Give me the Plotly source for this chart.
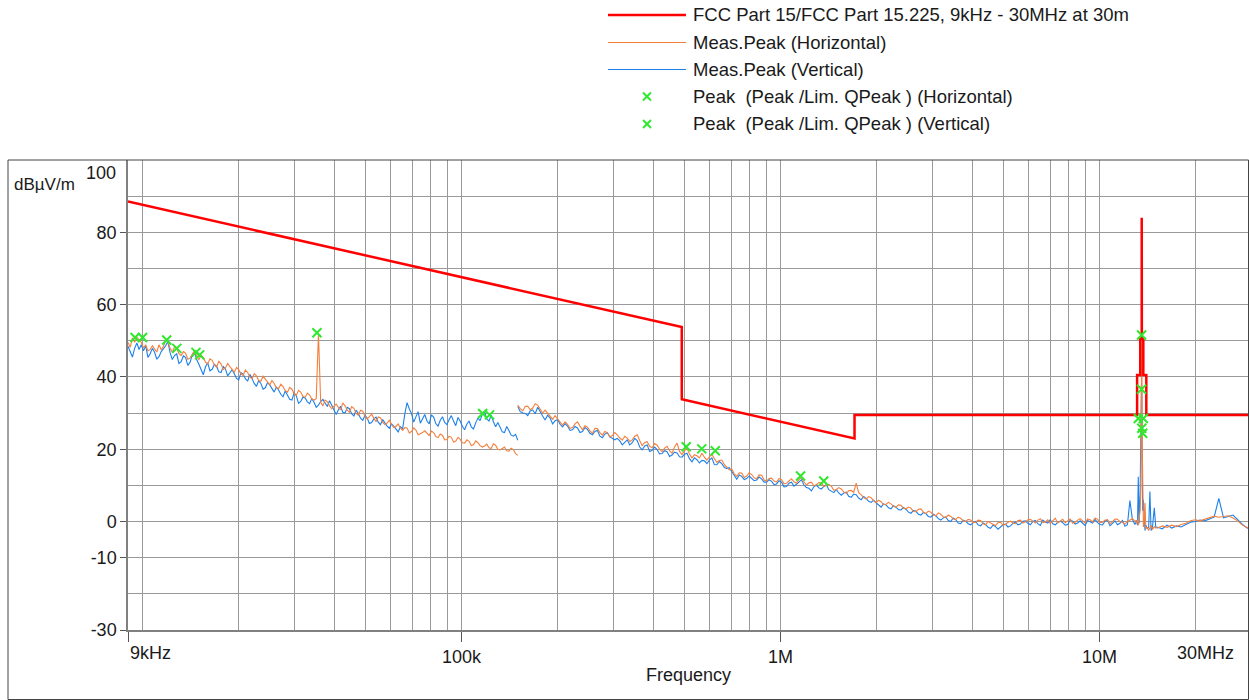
import numpy as np
import plotly.graph_objects as go

# ---------------- data ----------------
# Limit line breakpoints (FCC Part 15 / 15.225 at 30 m)
LIMIT_F = [9e3, 490e3, 490e3, 1.705e6, 1.705e6, 13.11e6, 13.11e6, 13.41e6, 13.41e6,
           13.553e6, 13.553e6, 13.567e6, 13.567e6, 13.71e6, 13.71e6, 14.01e6, 14.01e6, 30e6]
LIMIT_DB = [88.5, 53.8, 33.8, 23.0, 29.5, 29.5, 40.5, 40.5, 50.5,
            50.5, 84.0, 84.0, 50.5, 50.5, 40.5, 40.5, 29.5, 29.5]

# Band 1: 9 kHz - 150 kHz (main samples + in-between samples)
H_BAND1 = [49.5, 50.8, 51.0, 49.6, 48.9, 47.6, 47.8, 48.9, 48.4, 49.9,
           46.8, 47.9, 45.9, 46.6, 45.2, 47.2, 44.8, 45.4, 43.6, 44.6,
           42.7, 43.6, 42.5, 42.9, 41.3, 42.0, 40.4, 41.3, 39.5, 40.3,
           38.8, 39.4, 37.8, 38.2, 36.8, 37.3, 35.8, 36.6, 34.9, 35.8,
           34.4, 35.0, 33.6, 52.0, 32.0, 33.2, 31.2, 32.5, 30.9, 32.0,
           30.2, 31.3, 29.4, 30.5, 28.4, 29.7, 27.6, 28.7, 26.8, 28.0,
           26.0, 27.0, 25.2, 25.9, 24.9, 25.3, 24.2, 25.1, 23.8, 24.6,
           23.2, 23.8, 22.7, 23.3, 22.2, 22.7, 21.7, 22.2, 21.2, 21.8,
           20.6, 21.4, 20.2, 21.1, 19.8, 20.6, 19.5, 19.9, 18.3]
H_BAND1_MID = [48.2, 49.6, 50.4, 48.0, 47.2, 48.6, 46.9, 47.5, 50.1, 47.9,
               48.3, 46.4, 47.0, 44.9, 46.3, 45.7, 46.0, 44.1, 45.0, 43.3,
               44.3, 42.0, 43.7, 41.8, 42.6, 40.8, 41.9, 40.0, 40.9, 39.0,
               40.2, 38.5, 39.0, 37.0, 38.0, 36.2, 37.1, 35.4, 36.3, 34.6,
               35.5, 33.9, 34.0, 33.0, 33.6, 32.0, 31.9, 31.6, 32.8, 30.8,
               31.8, 29.9, 30.8, 29.2, 29.0, 28.6, 28.9, 27.4, 27.2, 26.9,
               26.3, 25.9, 26.0, 24.5, 25.9, 24.0, 24.6, 24.3, 25.0, 23.5,
               24.2, 22.6, 23.6, 22.0, 23.3, 21.8, 22.6, 21.0, 22.3, 21.0,
               20.9, 20.4, 21.5, 20.0, 20.2, 19.6, 20.3, 18.8]
V_BAND1 = [48.5, 45.5, 49.4, 48.9, 48.6, 46.4, 46.8, 45.6, 47.8, 49.8,
           44.8, 46.4, 44.2, 45.4, 44.0, 47.0, 43.5, 40.6, 43.9, 42.1,
           43.0, 41.2, 42.2, 41.0, 40.9, 39.2, 40.8, 38.8, 39.6, 37.4,
           38.2, 37.0, 37.8, 35.8, 36.4, 34.5, 34.9, 33.6, 34.8, 33.2,
           34.2, 32.6, 33.0, 32.2, 33.8, 31.8, 32.0, 29.6, 31.9, 30.0,
           31.2, 29.2, 29.9, 28.0, 28.6, 27.4, 28.9, 26.8, 27.1, 25.8,
           26.4, 24.8, 25.6, 32.9, 29.9, 28.8, 27.2, 29.6, 27.0, 28.9,
           26.4, 29.0, 26.8, 29.3, 26.5, 27.8, 25.4, 27.8, 25.6, 28.6,
           29.7, 28.4, 29.4, 26.2, 26.0, 24.6, 25.2, 23.6, 22.5]
V_BAND1_MID = [46.8, 47.9, 47.6, 47.2, 45.4, 47.9, 44.9, 47.0, 48.6, 46.7,
               45.9, 43.7, 45.8, 43.2, 46.1, 44.8, 42.0, 42.8, 41.7, 43.5,
               41.4, 42.9, 40.3, 42.0, 39.6, 41.2, 39.5, 40.7, 38.2, 38.9,
               36.6, 38.4, 36.9, 37.2, 35.2, 36.1, 33.8, 35.6, 32.7, 34.4,
               33.1, 34.0, 31.6, 33.2, 32.6, 33.4, 30.8, 30.9, 30.2, 31.6,
               29.8, 30.8, 28.6, 29.3, 27.1, 28.4, 27.5, 28.2, 26.4, 27.0,
               25.6, 26.2, 29.8, 31.2, 27.5, 30.4, 28.4, 27.8, 29.5, 27.1,
               28.0, 27.4, 28.2, 27.8, 28.8, 26.3, 26.9, 26.2, 27.3, 27.9,
               30.4, 27.8, 27.6, 27.4, 24.8, 26.3, 23.9, 24.1]

# Band 2a: 150 kHz - 12.9 MHz (main samples + in-between samples)
H_BAND2A = [32.2, 30.6, 31.9, 31.4, 32.2, 30.0, 29.9, 28.3, 28.5, 26.7,
            26.9, 26.0, 27.6, 25.4, 26.1, 24.4, 25.7, 23.9, 24.6, 23.8,
            24.0, 22.5, 23.1, 22.6, 24.0, 21.0, 22.1, 20.4, 21.1, 19.3,
            20.8, 18.9, 21.7, 18.5, 20.3, 17.6, 18.2, 18.9, 17.0, 18.6,
            16.4, 17.0, 15.0, 14.5, 12.5, 13.4, 12.6, 13.0, 11.8, 12.8,
            11.2, 12.0, 10.9, 11.6, 10.6, 11.8, 10.6, 12.2, 10.1, 10.9,
            10.2, 10.7, 9.9, 9.8, 8.8, 9.0, 7.8, 8.6, 10.6, 7.4,
            6.2, 6.6, 5.2, 5.5, 4.8, 4.9, 3.9, 4.5, 3.5, 3.7,
            2.7, 3.5, 2.2, 2.6, 1.6, 2.0, 1.1, 1.4, 0.6, 0.9,
            0.0, 0.4, -0.2, 0.3, -0.9, -0.4, -1.1, -0.2, -0.8, 0.1,
            -0.6, 0.4, -0.1,
            0.6, -0.4, 0.8, -0.1, -0.5, 0.9, 0.0, -0.3, 0.7, -0.2,
            0.8, -0.4, 0.5, 1.0, -0.3, 0.4, -0.6, 0.7, 0.0, -0.7, 0.5, 0.2]
H_BAND2A_MID = [31.2, 31.8, 30.9, 32.6, 31.0, 30.8, 29.0, 29.3, 27.5, 27.6,
                25.8, 27.0, 26.4, 26.5, 25.1, 25.8, 24.6, 24.9, 23.4, 24.6,
                23.1, 23.6, 22.1, 23.6, 22.4, 21.9, 20.8, 21.6, 20.0, 20.3,
                19.6, 20.6, 19.4, 19.6, 18.7, 18.5, 17.6, 17.8, 17.9, 17.4,
                16.9, 15.8, 14.3, 13.2, 13.5, 12.2, 13.5, 12.1, 12.9, 11.5,
                11.9, 11.2, 11.9, 10.5, 11.2, 11.0, 11.6, 11.0, 10.7, 9.9,
                10.8, 9.7, 10.3, 8.7, 9.4, 8.2, 8.5, 8.1, 8.0, 6.6,
                6.9, 5.7, 5.9, 4.7, 5.3, 4.2, 4.6, 3.7, 4.0, 2.8,
                3.4, 2.6, 2.9, 1.8, 2.4, 1.3, 1.8, 0.7, 1.2, 0.2,
                0.6, -0.3, 0.4, -0.6, 0.0, -0.8, -0.3, -1.0, -0.2, -0.4,
                0.3, -0.4, 0.5, 0.1, 0.4, -0.3, 0.5, 0.2, -0.4, 0.6,
                0.1, -0.5, 0.4, 0.2, 0.7, -0.1, 0.6, -0.2, 0.5, -0.1,
                0.6, -0.2, 0.0, 0.8]
V_BAND2A = [31.8, 30.0, 29.3, 30.9, 31.6, 29.2, 29.4, 27.0, 28.2, 26.2,
            26.4, 25.4, 25.9, 24.9, 25.5, 24.0, 25.2, 23.2, 24.6, 23.0,
            23.0, 21.2, 22.6, 21.8, 22.4, 19.8, 21.2, 19.7, 19.9, 18.8,
            19.3, 18.4, 19.0, 17.8, 18.9, 16.5, 17.1, 16.9, 16.0, 17.6,
            15.7, 16.0, 14.6, 13.9, 11.7, 12.5, 11.9, 12.0, 11.5, 11.8,
            10.9, 11.1, 10.4, 10.9, 9.7, 10.9, 10.3, 11.6, 9.4, 8.5,
            10.1, 9.0, 10.2, 8.3, 8.9, 7.3, 8.1, 6.7, 7.4, 6.0,
            6.4, 5.3, 5.2, 4.0, 4.6, 3.5, 4.0, 3.2, 3.4, 2.3,
            2.9, 1.8, 2.2, 1.2, 1.6, 0.4, 1.3, 0.0, 0.5, -0.6,
            0.1, -0.9, 0.0, -1.2, -0.8, -1.9, -1.4, -1.6, -0.7, -1.2,
            -0.1, -0.7, 0.2,
            -0.9, 0.3, -1.1, -0.1, 0.5, -0.9, 0.1, -1.0, 0.4, -0.7,
            0.2, -1.1, 0.0, 0.6, -0.8, 0.1, -1.2, 0.2, -0.5, -1.3, 5.8, -0.8]
V_BAND2A_MID = [30.4, 29.9, 30.6, 29.8, 30.2, 28.1, 28.6, 27.9, 26.9, 27.1,
                25.2, 26.3, 24.6, 26.0, 24.4, 24.9, 23.6, 24.2, 23.4, 22.6,
                22.3, 22.0, 21.2, 23.0, 20.6, 20.9, 19.4, 20.6, 18.7, 19.6,
                18.0, 19.2, 17.9, 18.6, 17.4, 17.6, 16.2, 16.8, 17.0, 15.8,
                16.6, 15.0, 14.9, 12.8, 12.9, 11.6, 12.6, 11.3, 12.3, 10.9,
                11.6, 10.2, 11.3, 9.6, 10.6, 9.8, 11.0, 10.1, 9.2, 9.6,
                9.3, 9.7, 8.8, 8.0, 7.9, 7.9, 7.0, 7.6, 6.5, 6.9,
                5.6, 5.9, 4.5, 4.9, 3.8, 4.4, 3.3, 3.9, 2.6, 3.0,
                2.0, 2.5, 1.4, 2.0, 0.8, 1.0, 0.3, 1.0, -0.4, 0.4,
                -0.6, -0.3, -0.9, -0.4, -1.6, -1.0, -2.1, -0.9, -1.5, -0.5,
                -0.9, 0.1, -0.5, 0.0, -0.6, 0.4, -0.4, -0.6, -0.2, -0.3,
                -0.8, 0.1, -0.4, -0.6, 0.3, -0.4, -0.3, -0.9, 0.4, -0.6,
                -0.9, 0.3, -0.9, 0.6]

# Band 2b: around 13.56 MHz (frequencies in MHz)
F_BAND2B_MHZ = [12.95, 13.05, 13.15, 13.22, 13.3, 13.4, 13.47, 13.52, 13.56, 13.6, 13.65,
                13.72, 13.8, 13.88, 13.96, 14.1, 14.25, 14.38, 14.5, 14.65, 14.84, 15.0]
H_BAND2B = [0.2, -0.5, 0.5, -1.0, 1.5, 3.0, 9.0, 30.0, 51.5, 22.0, 6.0,
            -1.5, -0.5, 5.1, -2.0, -1.5, -2.5, -1.8, -1.0, -2.2, -1.4, -1.8]
V_BAND2B = [-0.5, 0.3, -1.0, 12.4, -0.5, 8.0, 25.0, 38.0, 36.6, 15.0, 3.0,
            6.0, -1.0, -2.5, -1.0, -2.0, -1.5, 8.3, -2.5, -1.5, 3.8, -1.6]

# Band 2c: 15.2 MHz - 30 MHz
H_BAND2C = [-1.8, -1.2, -1.6, -1.0, -1.4, -0.8, -0.5, 0.2, 0.5, 0.2,
            0.6, 1.2, 1.5, 1.2, 1.4, 1.6, 1.0, 0.2, -1.0, -1.6, -2.3]
V_BAND2C = [-1.6, -2.0, -1.0, -1.8, -1.2, -1.5, -0.8, -0.2, 0.0, 0.4,
            0.2, 0.8, 1.2, 6.4, 1.0, 1.4, 1.8, 0.5, -0.8, -1.8, -2.0]

# Final peak markers
PEAK_H_F = [9.47e3, 11.9e3, 14.7e3, 35.2e3, 506e3, 624e3, 1.155e6, 13.54e6, 13.22e6, 13.56e6]
PEAK_H_DB = [50.9, 50.2, 46.8, 52.2, 20.7, 19.6, 12.6, 51.6, 28.5, 25.8]
PEAK_V_F = [10.0e3, 12.8e3, 15.1e3, 116.4e3, 122.4e3, 566e3, 1.365e6, 13.54e6, 13.71e6, 13.65e6]
PEAK_V_DB = [50.9, 47.9, 46.1, 29.9, 29.5, 20.1, 11.2, 36.6, 28.5, 24.4]

Y_TICKS = [80, 60, 40, 20, 0, -10, -30]
Y_TICKTEXT = ["80", "60", "40", "20", "0", "-10", "-30"]
X_TICKS = [1e5, 1e6, 1e7]
X_TICKTEXT = ["100k", "1M", "10M"]

LEGEND_NAMES = ["FCC Part 15/FCC Part 15.225, 9kHz - 30MHz at 30m",
                "Meas.Peak (Horizontal)",
                "Meas.Peak (Vertical)",
                "Peak  (Peak /Lim. QPeak ) (Horizontal)",
                "Peak  (Peak /Lim. QPeak ) (Vertical)"]

# ---------------- build ----------------
RED = "#ff0000"
ORANGE = "#f5803e"
BLUE = "#1b80ec"
GREEN = "#2ee82e"
GRID = "#9a9a9a"
TXT = "#1a1a1a"
FONT = "Arial, 'Liberation Sans', sans-serif"
FS = 18


def interleave(main, mid):
    out = np.empty(len(main) + len(mid))
    out[0::2] = main
    out[1::2] = mid
    return out


h1 = interleave(H_BAND1, H_BAND1_MID)
v1 = interleave(V_BAND1, V_BAND1_MID)
h2a = interleave(H_BAND2A, H_BAND2A_MID)
v2a = interleave(V_BAND2A, V_BAND2A_MID)

f1 = np.geomspace(9e3, 150e3, len(h1))
f2a = np.geomspace(150e3, 12.9e6, len(h2a))
f2b = np.array(F_BAND2B_MHZ) * 1e6
f2c = np.geomspace(15.2e6, 30e6, len(H_BAND2C))

freq = np.concatenate([f1, [np.nan], f2a, f2b, f2c])
h_vals = np.concatenate([h1, [np.nan], h2a, H_BAND2B, H_BAND2C])
v_vals = np.concatenate([v1, [np.nan], v2a, V_BAND2B, V_BAND2C])

fig = go.Figure()
fig.add_trace(go.Scatter(x=freq, y=v_vals, mode="lines", name=LEGEND_NAMES[2],
                         line=dict(color=BLUE, width=1.1), connectgaps=False))
fig.add_trace(go.Scatter(x=freq, y=h_vals, mode="lines", name=LEGEND_NAMES[1],
                         line=dict(color=ORANGE, width=1.1), connectgaps=False))
fig.add_trace(go.Scatter(x=LIMIT_F, y=LIMIT_DB, mode="lines", name=LEGEND_NAMES[0],
                         line=dict(color=RED, width=2.5)))
fig.add_trace(go.Scatter(x=PEAK_H_F, y=PEAK_H_DB, mode="markers", name=LEGEND_NAMES[3],
                         marker=dict(symbol="x-thin", size=9, color=GREEN,
                                     line=dict(width=2, color=GREEN))))
fig.add_trace(go.Scatter(x=PEAK_V_F, y=PEAK_V_DB, mode="markers", name=LEGEND_NAMES[4],
                         marker=dict(symbol="x-thin", size=9, color=GREEN,
                                     line=dict(width=2, color=GREEN))))

W, H = 1249, 700
L, R, T, B = 128, 0, 160, 70
PW, PH = W - L - R, H - T - B


def px(xp):
    return (xp - L) / PW


def py(yp):
    return (H - B - yp) / PH


shapes = []
annotations = []

# outer frame
shapes.append(dict(type="rect", xref="paper", yref="paper", x0=px(8), x1=px(1248.5),
                   y0=py(699.5), y1=1, line=dict(color="#444444", width=1), layer="above"))

# manual legend
rows = [15, 42.5, 69.5, 96.5, 124]
styles = [(RED, 2.5), (ORANGE, 1.2), (BLUE, 1.2)]
for i, name in enumerate(LEGEND_NAMES):
    yc = rows[i]
    if i < 3:
        c, w = styles[i]
        shapes.append(dict(type="line", xref="paper", yref="paper", x0=px(608), x1=px(686),
                           y0=py(yc), y1=py(yc), line=dict(color=c, width=w)))
    else:
        for a, b in ((-4, 4), (4, -4)):
            shapes.append(dict(type="line", xref="paper", yref="paper", x0=px(643), x1=px(651),
                               y0=py(yc + a), y1=py(yc + b), line=dict(color=GREEN, width=2)))
    annotations.append(dict(text=name, xref="paper", yref="paper", x=px(691), y=py(yc),
                            xanchor="left", yanchor="middle", showarrow=False,
                            font=dict(size=18.5, color=TXT, family=FONT)))

# axis extra labels
annotations.append(dict(text="100", xref="paper", yref="paper", x=0, xshift=-10, y=1, yshift=-1,
                        xanchor="right", yanchor="top", showarrow=False,
                        font=dict(size=FS, color=TXT, family=FONT)))
annotations.append(dict(text="dBµV/m", xref="paper", yref="paper", x=px(12), y=1, yshift=-13,
                        xanchor="left", yanchor="top", showarrow=False,
                        font=dict(size=17, color=TXT, family=FONT)))
annotations.append(dict(text="9kHz", xref="paper", yref="paper", x=0, xshift=0, y=0, yshift=-11,
                        xanchor="left", yanchor="top", showarrow=False,
                        font=dict(size=FS, color=TXT, family=FONT)))
annotations.append(dict(text="30MHz", xref="paper", yref="paper", x=1, xshift=-13, y=0, yshift=-11,
                        xanchor="right", yanchor="top", showarrow=False,
                        font=dict(size=FS, color=TXT, family=FONT)))

fig.update_layout(
    width=W, height=H,
    margin=dict(l=L, r=R, t=T, b=B, autoexpand=False),
    paper_bgcolor="white", plot_bgcolor="white",
    showlegend=False,
    font=dict(family=FONT, size=FS, color=TXT),
    shapes=shapes, annotations=annotations,
    xaxis=dict(type="log", range=[np.log10(9e3), np.log10(29.4e6)],
               tickvals=[9e3] + X_TICKS, ticktext=[""] + X_TICKTEXT,
               ticks="outside", ticklen=10, tickcolor="#555555", tickwidth=1,
               showline=True, linecolor="#808080", linewidth=1.5,
               showgrid=True, gridcolor=GRID, gridwidth=1.3,
               minor=dict(dtick="D1", showgrid=True, gridcolor=GRID, gridwidth=1.3, ticks=""),
               zeroline=False, tickfont=dict(size=FS),
               title=dict(text="Frequency", standoff=2, font=dict(size=FS))),
    yaxis=dict(range=[-30, 100], tickvals=Y_TICKS, ticktext=Y_TICKTEXT, ticks="outside", ticklen=6,
               tickcolor="#555555", showline=True, linecolor="#808080", linewidth=1.5,
               showgrid=True, gridcolor=GRID, gridwidth=1.3, tickfont=dict(size=FS),
               minor=dict(dtick=10, tick0=0, showgrid=True, gridcolor=GRID, gridwidth=1.3, ticks=""),
               zeroline=False),
)

fig.write_html("out.html", config={"displayModeBar": False},
               post_script="document.body.style.margin='0';document.body.style.overflow='hidden';")
